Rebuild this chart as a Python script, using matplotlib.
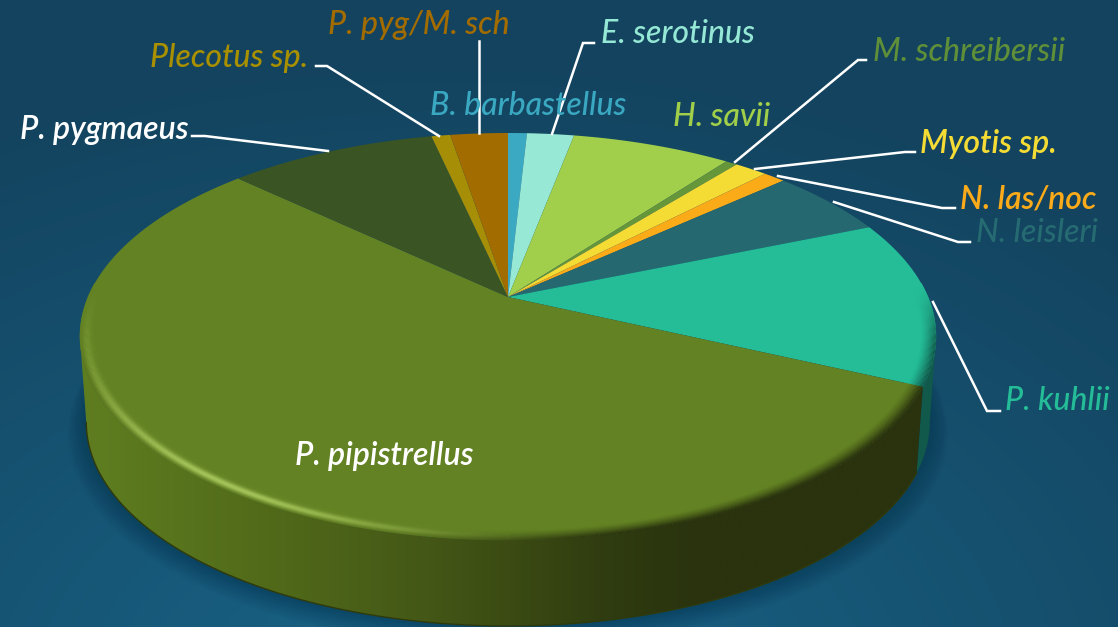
import numpy as np
import matplotlib
matplotlib.use('Agg')
import matplotlib.pyplot as plt
from matplotlib.collections import LineCollection
from matplotlib.colors import LinearSegmentedColormap, to_rgb
from matplotlib.patches import Polygon

# slices, clockwise from 12 o'clock
species = ['B. barbastellus', 'E. serotinus', 'H. savii', 'M. schreibersii', 'Myotis sp.',
           'N. las/noc', 'N. leisleri', 'P. kuhlii', 'P. pipistrellus', 'P. pygmaeus',
           'Plecotus sp.', 'P. pyg/M. sch']
percent = [0.86, 2.14, 7.25, 0.53, 1.5, 1.0, 5.47, 13.17, 55.1, 9.5, 0.86, 2.62]
colors = ['#3ba9c2', '#97e9d6', '#a2cf4b', '#66963a', '#f5dc35', '#fbab18',
          '#26686f', '#24bd98', '#638223', '#3a5424', '#a68f06', '#a36c00']
label_colors = ['#3aa8c1', '#95e8d5', '#a1cf4a', '#5f8f38', '#f5dc35', '#fbaa19',
                '#266a72', '#25bd98', 'white', 'white', '#a89000', '#a36c00']
label_x = [430, 601, 673, 873, 920, 960, 976, 1005, 295, 20, 150, 328]
label_y = [106, 34, 117, 52, 144, 200, 233, 401, 456, 130, 58, 25]

# leader lines, pixels
leader_x = [[479, 479], [316, 327, 439], [594, 583, 552], [866, 858, 735], [192, 205, 328],
            [915, 905, 755], [955, 942, 778], [970, 958, 834], [1000, 987, 933]]
leader_y = [[41, 133], [66, 66, 136], [43, 43, 134], [60, 60, 162], [136, 136, 151],
            [152, 152, 169], [208, 208, 176], [242, 242, 202], [411, 411, 302]]

W, H = 1118, 627
CX, CY = 508.0, 297.0
R, A, C = 420.0, 138.2, -0.194
DEPTH, BOTTOM_SCALE = 86.0, 0.985
# where the tilted rim is widest on screen
SIDE_R, SIDE_L = 101.2, 258.8

plt.rcParams['font.family'] = ['Lato', 'DejaVu Sans']


def project(theta, s=1.0):
    # tilted disc -> screen, theta in degrees clockwise from the top
    t = np.radians(theta)
    x, y = s*np.sin(t), -s*np.cos(t)
    d = 1 + C*y
    return CX + R*x/d, (CY + A*y)/d


def lower(theta, s=1.0):
    px, py = project(theta, s)
    return CX + (px - CX)*BOTTOM_SCALE, py + DEPTH


def smooth(a, b, v):
    u = np.clip((v - a)/(b - a), 0, 1)
    return u*u*(3 - 2*u)


fig = plt.figure(figsize=(W/100, H/100), dpi=100)
ax = fig.add_axes([0, 0, 1, 1])
ax.set_axis_off()

# background
yy, xx = np.mgrid[0:H, 0:W]
dist = np.sqrt(((xx - 450)/1000.0)**2 + ((yy - 690)/640.0)**2)
bg_cmap = LinearSegmentedColormap.from_list('bg', ['#196487', '#13435e'])
ax.imshow(np.clip(dist, 0, 1), cmap=bg_cmap, vmin=0, vmax=1, extent=(0, W, H, 0), aspect='auto', zorder=0)

edges = np.cumsum([0] + percent)*360.0/sum(percent)

# soft shadow under the disc
th = np.linspace(60, 300, 300)
for k in range(12, 0, -1):
    sx, sy = lower(th, 1 + 0.0035*k)
    ax.fill(sx, sy + 0.7*k, color='#0b2c44', alpha=0.035, lw=0, zorder=1)

# side wall
kuhlii = species.index('P. kuhlii')
pip = species.index('P. pipistrellus')
th = np.linspace(SIDE_R, edges[kuhlii + 1], 60)
tx, ty = project(th)
bx, by = lower(th)
ax.fill(np.r_[tx, bx[::-1]], np.r_[ty, by[::-1]], color='#11594a', lw=0, zorder=2)

th = np.linspace(edges[pip], SIDE_L, 300)
tx, ty = project(th)
bx, by = lower(th)
wall = Polygon(np.c_[np.r_[tx, bx[::-1]], np.r_[ty, by[::-1]]], closed=True, fc='none', ec='none', zorder=3)
ax.add_patch(wall)
stops = [(0.0, '#5f7e20'), (0.25, '#4f6719'), (0.38, '#465a17'), (0.5, '#3b4b13'),
         (0.62, '#2f3b10'), (0.72, '#2a330e'), (1.0, '#2a320e')]
wall_cmap = LinearSegmentedColormap.from_list('wall', stops)
im = ax.imshow(np.linspace(0, 1, 512)[None, :], cmap=wall_cmap, extent=(80, 940, H, 0), aspect='auto', zorder=3)
im.set_clip_path(wall)
ax.plot(bx, by, color='#2f3a0c', lw=1.0, zorder=4)

# top face
for i in range(len(percent)):
    th = np.linspace(edges[i], edges[i + 1], max(3, int(edges[i + 1] - edges[i])*3))
    px, py = project(th)
    ax.fill(np.r_[CX, px], np.r_[CY, py], color=colors[i], lw=0, zorder=5)

# bevel along the front rim, fades out at both ends
LAYERS = 12
for j in range(LAYERS):
    u = j/(LAYERS - 1.0)
    s = 0.998 - 0.033*u
    th = np.linspace(86, 274, 600)
    px, py = project(th, s)
    segs = np.stack([np.c_[px[:-1], py[:-1]], np.c_[px[1:], py[1:]]], axis=1)
    mid = 0.5*(th[:-1] + th[1:])
    base = np.where((mid < edges[kuhlii + 1])[:, None], np.array(to_rgb(colors[kuhlii])), np.array(to_rgb(colors[pip])))
    low = np.where((mid < edges[kuhlii + 1])[:, None], np.array(to_rgb('#11594a')), np.array(to_rgb('#2a330e')))
    dark = smooth(86, 106, mid)*(1 - smooth(165, 200, mid))*(1 - u)**1.3
    light = smooth(175, 215, mid)*(1 - 0.8*smooth(215, 262, mid))*(1 - smooth(256, 274, mid))*np.exp(-((u - 0.45)/0.3)**2)
    under = smooth(175, 205, mid)*(1 - smooth(248, 268, mid))*(1 - smooth(0.0, 0.3, u))*0.6
    rgb = base*(1 - dark[:, None]) + low*dark[:, None]
    rgb = rgb*(1 - under[:, None]) + np.array(to_rgb('#55701b'))*under[:, None]
    rgb = rgb*(1 - light[:, None]) + np.array(to_rgb('#a6c65c'))*light[:, None]
    ax.add_collection(LineCollection(segs, colors=rgb, linewidths=1.5, capstyle='butt', zorder=6))

# leaders
for lx, ly in zip(leader_x, leader_y):
    ax.plot(lx, ly, color='white', lw=1.8, solid_joinstyle='miter', zorder=7)

# labels
for name, lx, ly, c in zip(species, label_x, label_y, label_colors):
    weight = 'semibold' if name in ('P. pygmaeus', 'P. pipistrellus', 'Myotis sp.', 'N. las/noc') else 'medium'
    ax.text(lx, ly, name, color=c, fontsize=23, style='italic', weight=weight, ha='left', va='center', zorder=8)

ax.set_xlim(0, W)
ax.set_ylim(H, 0)
fig.savefig('out.png', dpi=100)
